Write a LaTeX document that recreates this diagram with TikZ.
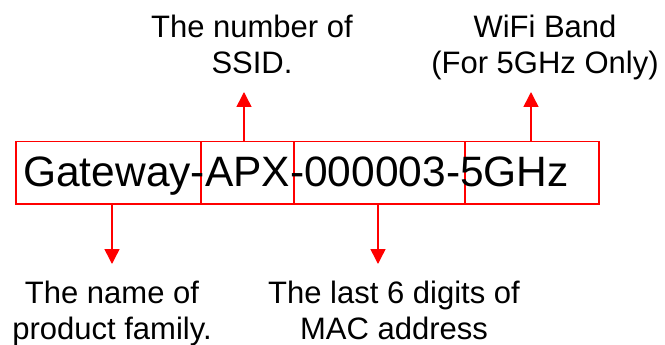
\documentclass[tikz,border=0pt]{standalone}
\usepackage{fontspec}
\setmainfont{Liberation Sans}
\usetikzlibrary{arrows.meta}
\definecolor{redline}{RGB}{255,0,0}
\tikzset{
  seg/.style={draw=redline, line width=1.5pt, minimum height=62pt, inner sep=0pt, anchor=north west},
  arr/.style={draw=redline, line width=1.5pt, -{Triangle[width=15pt,length=15pt]}},
  caption/.style={align=center, inner sep=0pt, anchor=north, font=\fontsize{31}{36.5}\selectfont},
  mainlbl/.style={inner sep=0pt, anchor=base west, font=\fontsize{42.5}{50}\selectfont}
}
\begin{document}
\begin{tikzpicture}[x=1pt,y=-1pt]
\useasboundingbox (0,0) rectangle (665,345);
\node[seg, minimum width=185pt] (b1) at (15,141) {};
\node[seg, minimum width=93pt] (b2) at (200,141) {};
\node[seg, minimum width=171pt] (b3) at (293,141) {};
\node[seg, minimum width=134pt] (b4) at (464,141) {};
\node[mainlbl] (main) at (23,186) {Gateway-APX-000003-5GHz};
\node[caption] (t2) at (252,14.5) {The number of\\SSID.};
\node[caption] (t4) at (545,14.5) {WiFi Band\\(For 5GHz Only)};
\node[caption] (t1) at (112,280.5) {The name of\\product family.};
\node[caption] (t3) at (394,280.5) {The last 6 digits of\\MAC address};
\coordinate (a1) at (112,264);
\coordinate (a3) at (378,264);
\coordinate (a2) at (244,92);
\coordinate (a4) at (531,92);
\draw[arr] (b1.south -| a1) -- (a1);
\draw[arr] (b3.south -| a3) -- (a3);
\draw[arr] (b2.north -| a2) -- (a2);
\draw[arr] (b4.north -| a4) -- (a4);
\end{tikzpicture}
\end{document}
